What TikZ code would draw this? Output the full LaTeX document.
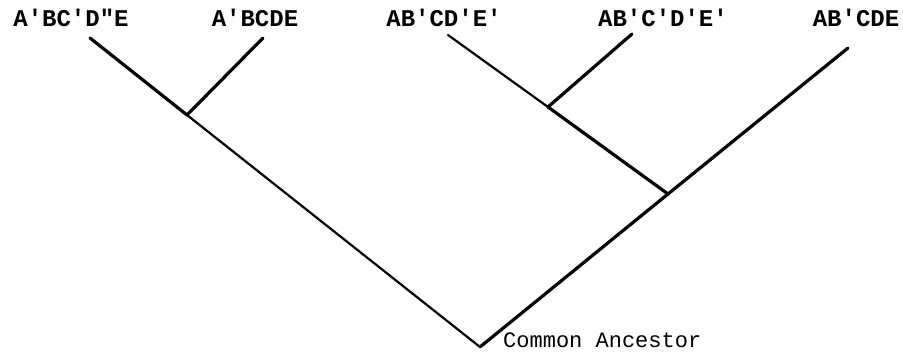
\documentclass[tikz,border=0pt]{standalone}
\usepackage{fontspec}
\setmonofont{Liberation Mono}
\usetikzlibrary{positioning}

\begin{document}
\begin{tikzpicture}[x=1pt, y=-1pt,
        taxon/.style={font=\ttfamily\bfseries\fontsize{24}{24}\selectfont, anchor=base, inner sep=0pt},
        ancestor/.style={font=\ttfamily\fontsize{22}{22}\selectfont, anchor=base west, inner sep=0pt},
        branch/.style={-, line width=3.2pt, draw=black, line cap=round},
        twig/.style={-, line width=2.2pt, draw=black, line cap=round}
    ]
        \useasboundingbox (0,0) rectangle (903,352);

        % --- TAXA ---
        \node[taxon] (ta) at (71, 27) {A'BC'D"E};
        \node[taxon] (tb) at (255, 27) {A'BCDE};
        \node[taxon] (tc) at (444, 27) {AB'CD'E'};
        \node[taxon] (td) at (663, 27) {AB'C'D'E'};
        \node[taxon] (te) at (856, 27) {AB'CDE};

        % --- BRANCH TIPS ---
        \coordinate (tipa) at (90, 38);
        \coordinate (tipb) at (263, 38);
        \coordinate (tipc) at (448, 35);
        \coordinate (tipd) at (632, 34);
        \coordinate (tipe) at (848, 48);

        % --- SPLITS ---
        \coordinate (splitab) at (187, 115);
        \coordinate (splitcd) at (548, 107);
        \coordinate (splitcde) at (668, 194);
        \coordinate (root) at (480, 347);

        \node[ancestor] (anc) at (503, 348) {Common Ancestor};

        % --- BRANCHES ---
        \draw[branch] (tipa) -- (splitab);
        \draw[branch] (tipb) -- (splitab);
        \draw[twig] (splitab) -- (root);

        \draw[twig] (tipc) -- (splitcd);
        \draw[branch] (tipd) -- (splitcd);
        \draw[branch] (splitcd) -- (splitcde);
        \draw[branch] (tipe) -- (splitcde);
        \draw[branch] (splitcde) -- (root);

    \end{tikzpicture}
\end{document}
